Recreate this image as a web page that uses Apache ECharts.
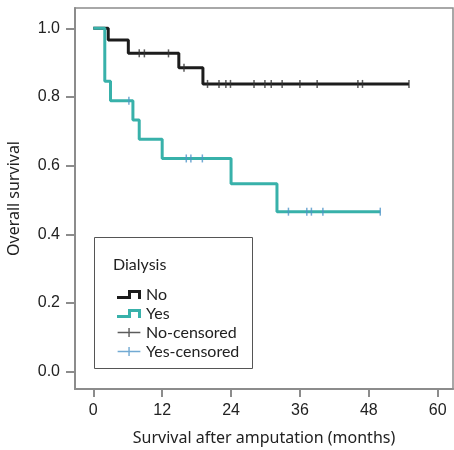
<!DOCTYPE html>
<html>
<head>
<meta charset="utf-8">
<script src="https://cdn.jsdelivr.net/npm/echarts@6/dist/echarts.min.js"></script>
<style>html,body{margin:0;padding:0;background:#fff}#c{width:454px;height:450px}</style>
</head>
<body>
<div id="c"></div>
<script>
// Kaplan–Meier step data (time in months, survival)
const noTimes = [0, 2.6, 6.1, 14.9, 19.1, 55.0];
const noSurv = [1.0, 0.966, 0.927, 0.885, 0.838, 0.838];
const yesTimes = [0, 2.0, 3.0, 6.9, 8.0, 12.0, 24.0, 32.0, 50.0];
const yesSurv = [1.0, 0.846, 0.789, 0.733, 0.677, 0.621, 0.547, 0.466, 0.466];
// censored observations
const noCensorTimes = [8.0, 8.9, 13.1, 15.8, 19.9, 21.9, 23.1, 23.9, 28.0, 29.9, 31.0, 32.9, 36.0, 39.0, 46.1, 46.9, 55.0];
const noCensorSurv = [0.927, 0.927, 0.927, 0.885, 0.838, 0.838, 0.838, 0.838, 0.838, 0.838, 0.838, 0.838, 0.838, 0.838, 0.838, 0.838, 0.838];
const yesCensorTimes = [6.2, 16.2, 17.0, 19.0, 34.0, 37.2, 38.0, 40.0, 50.0];
const yesCensorSurv = [0.789, 0.621, 0.621, 0.621, 0.466, 0.466, 0.466, 0.466, 0.466];
// axes
const xTicks = [0, 12, 24, 36, 48, 60];
const yTicks = [0, 0.2, 0.4, 0.6, 0.8, 1.0];
const seriesNames = ['No', 'Yes', 'No-censored', 'Yes-censored'];
const legendTitle = 'Dialysis';
const xTitle = 'Survival after amputation (months)';
const yTitle = 'Overall survival';

const zip = (a, b) => a.map((v, i) => [v, b[i]]);
const stepIcon = 'path://M0,6H11V0H24V9H21V3H14V9H0Z';
const plusIcon = 'path://M0,4H24V5.5H0Z M11.3,0H12.8V9.5H11.3Z';
const axisGray = '#8c8c8c';

const chart = echarts.init(document.getElementById('c'), null, {renderer: 'canvas'});
chart.setOption({
  animation: false,
  grid: {left: 75, right: 1, top: 8, bottom: 61, show: true, borderColor: axisGray, borderWidth: 1.5,
    containLabel: false, outerBoundsMode: 'none'},
  xAxis: {
    type: 'value', min: -3.19, max: 62.67,
    name: xTitle, nameLocation: 'middle', nameGap: 41,
    nameTextStyle: {fontFamily: 'Noto Sans', fontSize: 16, color: '#222'},
    axisLine: {show: true, onZero: false, lineStyle: {color: axisGray, width: 2}},
    axisTick: {show: true, length: 8, customValues: xTicks, lineStyle: {color: axisGray, width: 2}},
    axisLabel: {customValues: xTicks, margin: 14, fontFamily: 'Liberation Sans', fontSize: 16, color: '#222'},
    splitLine: {show: false}
  },
  yAxis: {
    type: 'value', min: -0.0504, max: 1.0591,
    name: yTitle, nameLocation: 'middle', nameGap: 53,
    nameTextStyle: {fontFamily: 'Noto Sans', fontSize: 16, color: '#222'},
    axisLine: {show: true, onZero: false, lineStyle: {color: axisGray, width: 2}},
    axisTick: {show: true, length: 9, customValues: yTicks, lineStyle: {color: axisGray, width: 2}},
    axisLabel: {customValues: yTicks, margin: 15, fontFamily: 'Liberation Sans', fontSize: 16, color: '#222',
      formatter: v => v.toFixed(1)},
    splitLine: {show: false}
  },
  legend: {
    orient: 'vertical', left: 112, top: 280, itemWidth: 24, itemHeight: 9, itemGap: 0,
    textStyle: {fontFamily: 'Lato', fontSize: 16, color: '#222', lineHeight: 19},
    data: [
      {name: seriesNames[0], icon: stepIcon},
      {name: seriesNames[1], icon: stepIcon},
      {name: seriesNames[2], icon: plusIcon},
      {name: seriesNames[3], icon: plusIcon}
    ],
    selectedMode: false
  },
  graphic: [
    {type: 'rect', z: 0, shape: {x: 94.5, y: 237.5, width: 158, height: 131},
      style: {fill: '#fff', stroke: '#555', lineWidth: 1}},
    {type: 'text', z: 1, x: 113, y: 265, style: {text: legendTitle, font: '16px Lato', fill: '#222', verticalAlign: 'middle'}}
  ],
  series: [
    {name: seriesNames[0], type: 'line', step: 'end', data: zip(noTimes, noSurv), showSymbol: false,
      color: '#1c1c1c', lineStyle: {color: '#1c1c1c', width: 3}, z: 2},
    {name: seriesNames[1], type: 'line', step: 'end', data: zip(yesTimes, yesSurv), showSymbol: false,
      color: '#38b1aa', lineStyle: {color: '#38b1aa', width: 3}, z: 3},
    {name: seriesNames[2], type: 'scatter', data: zip(noCensorTimes, noCensorSurv),
      symbol: 'path://M0,0H1.5V8H0Z', symbolSize: [1.5, 8], color: '#555', itemStyle: {color: '#333'}, z: 4},
    {name: seriesNames[3], type: 'scatter', data: zip(yesCensorTimes, yesCensorSurv),
      symbol: 'path://M0,0H1.5V8H0Z', symbolSize: [1.5, 8], color: '#8cc6e0', itemStyle: {color: '#4f95c8'}, z: 4}
  ]
});
</script>
</body>
</html>
